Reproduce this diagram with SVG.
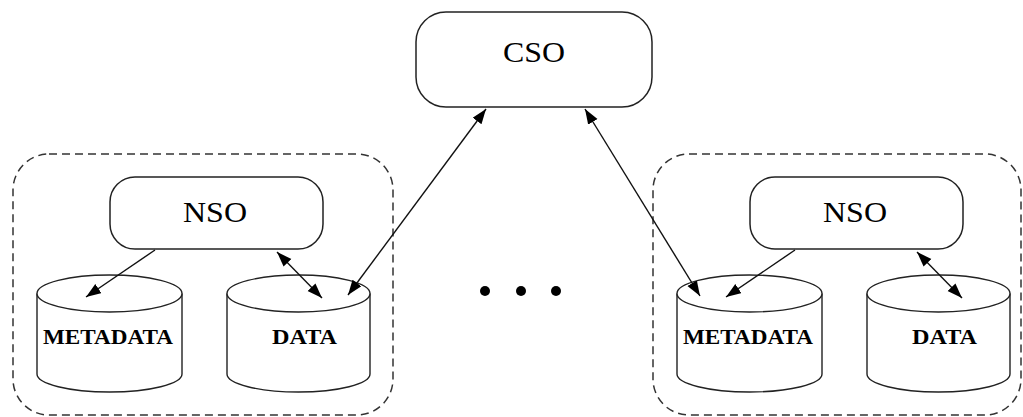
<svg xmlns="http://www.w3.org/2000/svg" width="1023" height="417" viewBox="0 0 1023 417">
<defs>
<marker id="arr" markerUnits="userSpaceOnUse" markerWidth="16" markerHeight="12" refX="15" refY="5.5" orient="auto-start-reverse">
<path d="M0,0 L15,5.5 L0,11 z" fill="#000"/>
</marker>
<style>
.grp{fill:none;stroke:#333;stroke-width:1.5;stroke-dasharray:8 5}
.box{fill:#fff;stroke:#222;stroke-width:1.5}
.cyl{fill:#fff;stroke:#222;stroke-width:1.4}
.lbl{font-family:"Liberation Serif",serif;font-size:30px;fill:#000;text-anchor:middle}
.db{font-family:"Liberation Serif",serif;font-size:22px;font-weight:bold;fill:#000;text-anchor:middle}
.con{stroke:#111;stroke-width:1.4;fill:none}
.dot{fill:#000}
</style>
</defs>
<rect width="1023" height="417" fill="#fff"/>
<g id="group-left"><rect class="grp" x="13" y="154" width="380" height="261" rx="36" ry="36"/></g>
<g id="group-right"><rect class="grp" x="653" y="154" width="368" height="261" rx="36" ry="36"/></g>
<g id="cso"><rect class="box" x="416" y="12" width="236" height="95" rx="30" ry="30"/><text class="lbl" x="534" y="62" textLength="62" lengthAdjust="spacingAndGlyphs">CSO</text></g>
<g id="nso-left"><rect class="box" x="110" y="177" width="213" height="72" rx="25" ry="25"/><text class="lbl" x="215" y="222" textLength="64" lengthAdjust="spacingAndGlyphs">NSO</text></g>
<g id="nso-right"><rect class="box" x="750" y="177" width="213" height="72" rx="25" ry="25"/><text class="lbl" x="855" y="222" textLength="64" lengthAdjust="spacingAndGlyphs">NSO</text></g>
<g id="metadata-left"><path class="cyl" d="M37,293.5 L37,374 A72.5,18 0 0 0 182,374 L182,293.5"/><ellipse class="cyl" cx="109.5" cy="293.5" rx="72.5" ry="18.5"/><text class="db" x="108" y="344" textLength="130" lengthAdjust="spacingAndGlyphs">METADATA</text></g>
<g id="data-left"><path class="cyl" d="M227,293.5 L227,374 A71.5,18 0 0 0 370,374 L370,293.5"/><ellipse class="cyl" cx="298.5" cy="293.5" rx="71.5" ry="18.5"/><text class="db" x="304.5" y="344" textLength="65" lengthAdjust="spacingAndGlyphs">DATA</text></g>
<g id="metadata-right"><path class="cyl" d="M677,293.5 L677,374 A72.5,18 0 0 0 822,374 L822,293.5"/><ellipse class="cyl" cx="749.5" cy="293.5" rx="72.5" ry="18.5"/><text class="db" x="748" y="344" textLength="130" lengthAdjust="spacingAndGlyphs">METADATA</text></g>
<g id="data-right"><path class="cyl" d="M867,293.5 L867,374 A71.5,18 0 0 0 1010,374 L1010,293.5"/><ellipse class="cyl" cx="938.5" cy="293.5" rx="71.5" ry="18.5"/><text class="db" x="944.5" y="344" textLength="65" lengthAdjust="spacingAndGlyphs">DATA</text></g>
<g id="ellipsis"><circle class="dot" cx="485" cy="291" r="5"/><circle class="dot" cx="521" cy="291" r="5"/><circle class="dot" cx="556" cy="291" r="5"/></g>
<g id="connectors">
<line class="con" x1="155" y1="250" x2="86" y2="297" marker-end="url(#arr)"/>
<line class="con" x1="277" y1="252" x2="322" y2="298" marker-start="url(#arr)" marker-end="url(#arr)"/>
<line class="con" x1="348" y1="295" x2="486" y2="109" marker-start="url(#arr)" marker-end="url(#arr)"/>
<line class="con" x1="700" y1="296" x2="585" y2="109" marker-start="url(#arr)" marker-end="url(#arr)"/>
<line class="con" x1="795" y1="250" x2="726" y2="297" marker-end="url(#arr)"/>
<line class="con" x1="917" y1="252" x2="962" y2="298" marker-start="url(#arr)" marker-end="url(#arr)"/>
</g>
</svg>
